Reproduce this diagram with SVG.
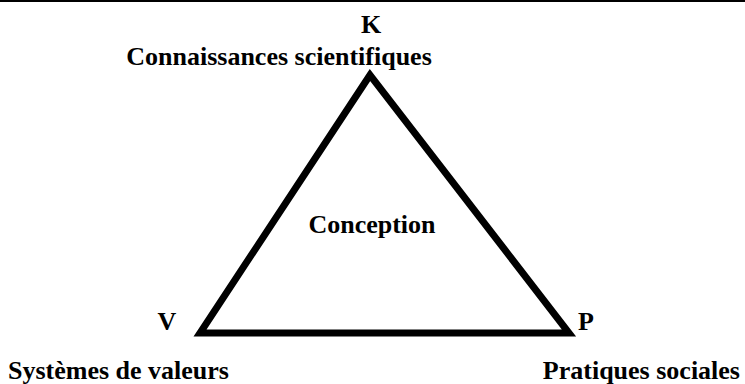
<svg xmlns="http://www.w3.org/2000/svg" width="745" height="384" viewBox="0 0 745 384">
<style>
.t{font-family:"Liberation Serif","Times New Roman",serif;font-weight:bold;font-size:26px;fill:#000}
.edge{stroke:#000;stroke-width:7;fill:none;stroke-linejoin:miter}
</style>
<rect x="0" y="0" width="745" height="384" fill="#fff"/>
<line x1="0" y1="1" x2="745" y2="1" stroke="#000" stroke-width="2"/>
<g id="connectors">
<polygon class="edge" points="370,75 200,333 569,333"/>
</g>
<g id="node-K">
<text class="t" x="371" y="33" text-anchor="middle">K</text>
<text class="t" x="279" y="65" text-anchor="middle">Connaissances scientifiques</text>
</g>
<g id="node-V">
<text class="t" x="167" y="330" text-anchor="middle">V</text>
<text class="t" x="8" y="379">Systèmes de valeurs</text>
</g>
<g id="node-P">
<text class="t" x="586" y="330" text-anchor="middle">P</text>
<text class="t" x="740" y="379" text-anchor="end">Pratiques sociales</text>
</g>
<g id="node-center">
<text class="t" x="372" y="233" text-anchor="middle">Conception</text>
</g>
</svg>
